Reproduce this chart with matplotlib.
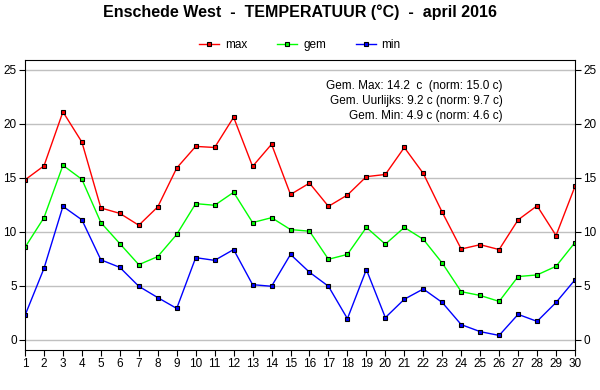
import matplotlib.pyplot as plt

plt.rcParams['font.family'] = ['Liberation Sans', 'DejaVu Sans']

# dagwaarden april 2016
dagen = list(range(1, 31))
tmax = [14.8, 16.1, 21.1, 18.3, 12.2, 11.7, 10.6, 12.3, 15.9, 17.9,
        17.8, 20.6, 16.05, 18.1, 13.45, 14.5, 12.35, 13.4, 15.1, 15.3,
        17.8, 15.4, 11.8, 8.4, 8.8, 8.35, 11.1, 12.4, 9.65, 14.2]
tgem = [8.55, 11.3, 16.15, 14.85, 10.85, 8.9, 6.95, 7.7, 9.75, 12.6,
        12.45, 13.65, 10.85, 11.3, 10.2, 10.05, 7.45, 7.9, 10.4, 8.85,
        10.4, 9.3, 7.1, 4.45, 4.1, 3.55, 5.85, 6.0, 6.8, 9.0]
tmin = [2.25, 6.6, 12.35, 11.1, 7.4, 6.7, 4.95, 3.9, 2.9, 7.6,
        7.35, 8.35, 5.1, 4.95, 7.9, 6.25, 4.95, 1.95, 6.5, 2.05,
        3.75, 4.7, 3.45, 1.4, 0.75, 0.4, 2.35, 1.7, 3.45, 5.55]

samenvatting = ("Gem. Max: 14.2  c  (norm: 15.0 c)\n"
                "Gem. Uurlijks: 9.2 c (norm: 9.7 c)\n"
                "Gem. Min: 4.9 c (norm: 4.6 c)")

fig = plt.figure(figsize=(6, 3.9), dpi=100)
ax = fig.add_axes([25 / 600, 40 / 390, 550 / 600, 290 / 390])

for waarden, kleur, naam in [(tmax, '#ff0000', 'max'),
                             (tgem, '#00ff00', 'gem'),
                             (tmin, '#0000ff', 'min')]:
    ax.plot(dagen, waarden, color=kleur, lw=1, marker='s', ms=3.5,
            mfc=kleur, mec='black', mew=0.8, label=naam)

ax.set_xlim(1, 30)
ax.set_ylim(-0.95, 25.9)
ax.set_xticks(dagen)
ax.set_yticks([0, 5, 10, 15, 20, 25])
ax.grid(axis='y', color='#c0c0c0', lw=1)
ax.set_axisbelow(True)
ax.tick_params(axis='both', labelsize=8.5, direction='out', length=4, pad=2)
ax.tick_params(axis='y', right=True, labelright=True)

ax.text(0.868, 0.93, samenvatting, transform=ax.transAxes, ha='right', va='top',
        fontsize=8.5, linespacing=1.3, multialignment='right')

fig.text(0.5, 0.968, "Enschede West  -  TEMPERATUUR (°C)  -  april 2016",
         ha='center', va='center', fontsize=11.5, fontweight='bold')
fig.legend(loc='center', bbox_to_anchor=(0.5, 0.885), ncol=3, frameon=False,
           fontsize=8.5, handlelength=1.7, columnspacing=2.5, handletextpad=0.5)

fig.savefig('out.png', dpi=100)
